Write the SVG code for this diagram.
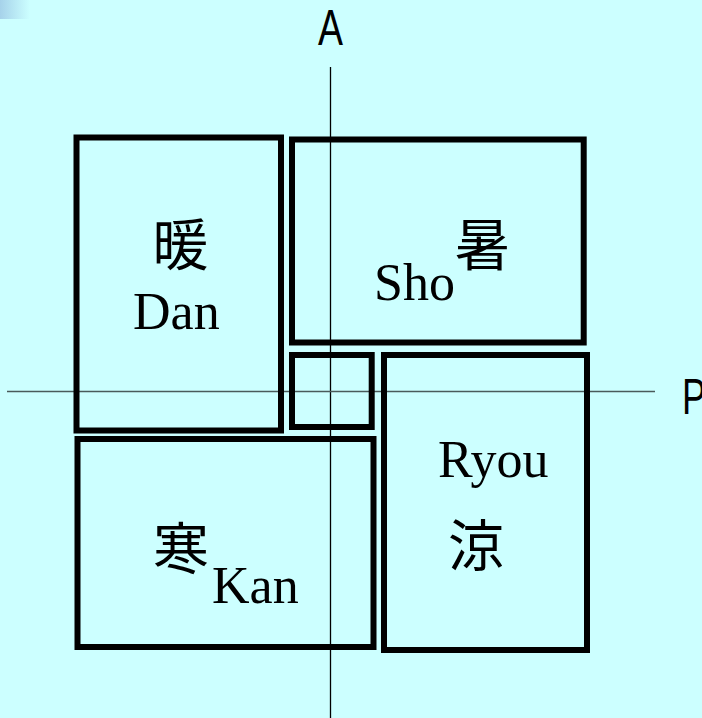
<svg xmlns="http://www.w3.org/2000/svg" width="702" height="718" viewBox="0 0 702 718">
<defs>
<linearGradient id="corner" x1="0" y1="0" x2="1" y2="0">
<stop offset="0" stop-color="#a6d2ea"/>
<stop offset="1" stop-color="#ccffff"/>
</linearGradient>
</defs>
<style>
.box{fill:none;stroke:#000;stroke-width:6}
.axis{stroke:#000;stroke-width:1.3}
.haxis{stroke:#4a5a5a;stroke-width:1.3}
.cjk{font-family:"Noto Sans CJK JP","Noto Sans CJK SC",sans-serif;font-size:56px;fill:#000;text-anchor:middle}
.rom{font-family:"Liberation Serif",serif;font-size:52px;fill:#000}
.ax{font-family:"Liberation Sans","DejaVu Sans",sans-serif;font-size:50px;fill:#000}
</style>
<rect width="702" height="718" fill="#ccffff"/>
<rect x="0" y="0" width="30" height="19" fill="url(#corner)"/>
<g id="connectors">
<line class="axis" x1="330.5" y1="67" x2="330.5" y2="718"/>
<line class="haxis" x1="7" y1="391.5" x2="655" y2="391.5"/>
</g>
<g id="axis-A"><text class="ax" x="318" y="45" textLength="25" lengthAdjust="spacingAndGlyphs">A</text></g>
<g id="axis-P"><text class="ax" x="682" y="414" textLength="24" lengthAdjust="spacingAndGlyphs">P</text></g>
<g id="dan">
<rect class="box" x="76.5" y="137.5" width="204.5" height="293"/>
<text class="cjk" x="180.5" y="265">暖</text>
<text class="rom" x="133" y="329">Dan</text>
</g>
<g id="sho">
<rect class="box" x="292" y="139.5" width="291.7" height="203"/>
<text class="rom" x="374" y="300">Sho</text>
<text class="cjk" x="482.5" y="265">暑</text>
</g>
<g id="center">
<rect class="box" x="292" y="355" width="79.7" height="72"/>
</g>
<g id="ryou">
<rect class="box" x="384" y="355" width="203" height="295"/>
<text class="rom" x="438" y="477">Ryou</text>
<text class="cjk" x="476" y="566">涼</text>
</g>
<g id="kan">
<rect class="box" x="77.5" y="439" width="296" height="208"/>
<text class="cjk" x="181" y="569">寒</text>
<text class="rom" x="212" y="603">Kan</text>
</g>
</svg>
